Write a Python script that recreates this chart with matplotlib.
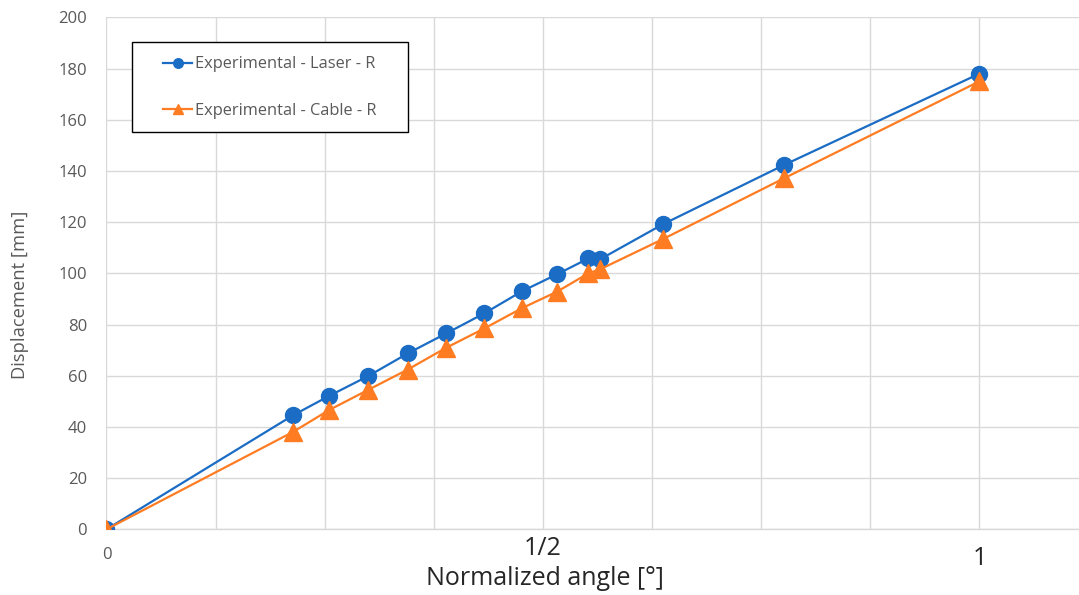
import matplotlib
matplotlib.use("Agg")
import matplotlib.pyplot as plt
from matplotlib.patches import Rectangle

plt.rcParams['font.family'] = ['Open Sans', 'DejaVu Sans']

angle = [0.0, 0.214, 0.255, 0.300, 0.345, 0.389, 0.433, 0.476, 0.516, 0.552, 0.565, 0.637, 0.776, 1.0]
laser = [0.0, 44.6, 52.1, 59.9, 68.7, 76.5, 84.4, 93.0, 99.6, 105.8, 105.4, 119.1, 142.3, 178.0]
cable = [0.0, 38.1, 46.6, 54.5, 62.4, 70.9, 78.5, 86.4, 92.8, 100.0, 101.5, 113.3, 137.1, 175.0]

x_ticks = [0, 0.5, 1]
x_ticklabels = ['0', '1/2', '1']
y_ticks = list(range(0, 201, 20))

blue = '#1A6CC4'
orange = '#FF7C22'
grid = '#D9D9D9'
txt = '#595959'
dark = '#262626'

fig = plt.figure(figsize=(10.79, 5.95), dpi=100)
ax = fig.add_axes([0.0987, 0.1104, 0.9013, 0.8605])

ax.plot(angle, laser, color=blue, lw=1.6, marker='o', ms=11.5,
        label='Experimental - Laser - R', zorder=3)
ax.plot(angle, cable, color=orange, lw=1.6, marker='^', ms=12.5,
        label='Experimental - Cable - R', zorder=4)

ax.set_xlim(0, 1.114)
ax.set_ylim(0, 200)
ax.set_yticks(y_ticks)
ax.set_xticks(x_ticks)
ax.set_xticklabels([])

# light vertical grid every 1/8
for gx in [i * 0.125 for i in range(0, 9)]:
    ax.axvline(gx, color=grid, lw=1.0, zorder=0)
ax.yaxis.grid(True, color=grid, lw=1.0, zorder=0)
ax.set_axisbelow(True)

for s in ['top', 'right', 'left']:
    ax.spines[s].set_visible(False)
ax.spines['bottom'].set_color(grid)
ax.spines['bottom'].set_linewidth(1.0)

ax.tick_params(axis='y', length=0, pad=14, labelsize=12, labelcolor=txt)
ax.tick_params(axis='x', length=0)

# x tick labels: the zero matches the y labels, the fractions are larger
xt = ax.get_xaxis_transform()
tick_styles = {'0': (12, txt, -0.051), '1/2': (18, dark, -0.037), '1': (18, dark, -0.057)}
for xv, lab in zip(x_ticks, x_ticklabels):
    size, col, yy = tick_styles[lab]
    ax.text(xv, yy, lab, transform=xt, ha='center', va='center',
            fontsize=size, color=col)

ax.text(0.502, -0.096, 'Normalized angle [°]', transform=xt, ha='center',
        va='center', fontsize=18, color=dark)
ax.text(-0.089, 0.458, 'Displacement [mm]', transform=ax.transAxes,
        ha='center', va='center', rotation=90, fontsize=13.2, color=txt)

# legend box with generous left padding
box = Rectangle((0.0262, 0.776), 0.284, 0.176, transform=ax.transAxes,
                facecolor='white', edgecolor='black', lw=1.0, zorder=5)
ax.add_patch(box)
leg = ax.legend(loc='center left', bbox_to_anchor=(0.058, 0.863), fontsize=11.8,
                frameon=False, markerscale=0.6, handlelength=1.8,
                handletextpad=0.15, labelspacing=1.85, borderpad=0,
                borderaxespad=0)
leg.set_zorder(6)
for t in leg.get_texts():
    t.set_color(txt)

fig.savefig('out.png', dpi=100)
